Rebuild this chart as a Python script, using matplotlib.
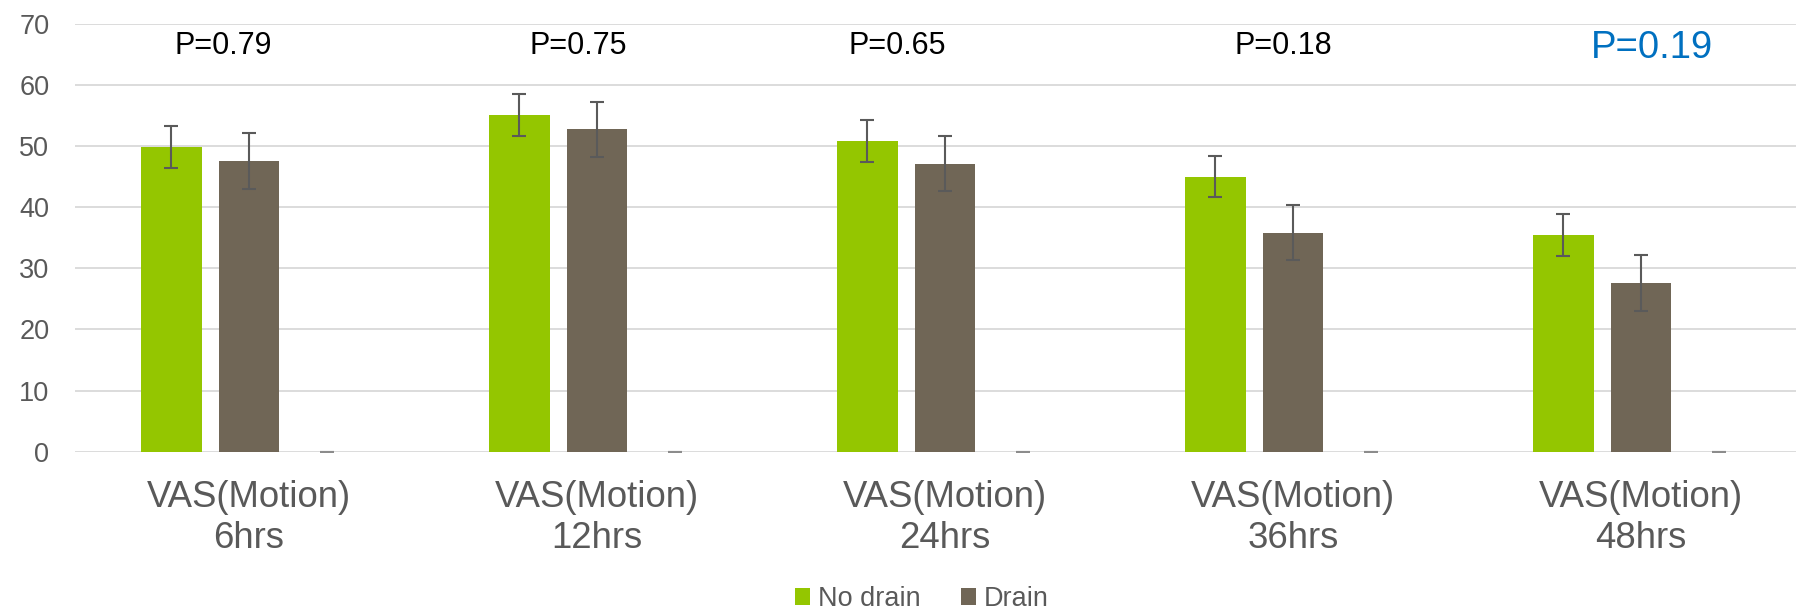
import matplotlib
matplotlib.use("Agg")
import matplotlib.pyplot as plt
import numpy as np

plt.rcParams['font.family'] = ['Liberation Sans', 'DejaVu Sans']

categories = ["VAS(Motion)\n6hrs", "VAS(Motion)\n12hrs", "VAS(Motion)\n24hrs",
              "VAS(Motion)\n36hrs", "VAS(Motion)\n48hrs"]
no_drain = [49.8, 55.1, 50.8, 45.0, 35.4]
no_drain_err = [3.4, 3.4, 3.4, 3.4, 3.4]
drain = [47.6, 52.7, 47.1, 35.8, 27.6]
drain_err = [4.6, 4.5, 4.5, 4.5, 4.55]
third = [0, 0, 0, 0, 0]
third_err = [0, 0, 0, 0, 0]
p_labels = ["P=0.79", "P=0.75", "P=0.65", "P=0.18", "P=0.19"]
p_x = [-0.073, 0.945, 1.862, 2.971, 4.031]
p_y = [66.4, 66.4, 66.4, 66.4, 66.0]
p_colors = ["black", "black", "black", "black", "#0070C0"]
p_sizes = [22, 22, 22, 22, 27.5]

fig = plt.figure(figsize=(17.96, 6.15), dpi=100)
ax = fig.add_axes([75/1796, 163.3/615, 1740/1796, (451.7-23.7)/615])

x = np.arange(len(categories))
w = 0.175
off = 0.223
ecol = "#5A5A5A"
ekw = dict(elinewidth=1.5, capthick=1.5, ecolor=ecol)
ax.bar(x - off, no_drain, w, color="#94C600", label="No drain", zorder=3,
       yerr=no_drain_err, capsize=4.7, error_kw=ekw)
ax.bar(x, drain, w, color="#706656", label="Drain", zorder=3,
       yerr=drain_err, capsize=4.7, error_kw=ekw)
ax.bar(x + off, third, w, color="#A5A5A5", label="_nolegend_", zorder=3,
       yerr=third_err, capsize=4.7, error_kw=dict(elinewidth=1.5, capthick=1.5, ecolor="#8C8C8C"))

ax.set_xlim(-0.5, 4.5)
ax.set_ylim(0, 70)
ax.set_yticks(range(0, 71, 10))
ax.yaxis.grid(True, color="#D9D9D9", linewidth=1.3, zorder=0)
ax.set_axisbelow(True)
for s in ax.spines.values():
    s.set_visible(False)
ax.tick_params(axis='both', length=0)
ax.tick_params(axis='y', labelsize=19.5, labelcolor="#595959", pad=18.5)
ax.set_xticks(x)
ax.set_xticklabels(categories, fontsize=26.3, color="#595959", linespacing=1.22)
ax.tick_params(axis='x', pad=20.5)

for px, py, t, c, s in zip(p_x, p_y, p_labels, p_colors, p_sizes):
    ax.text(px, py, t, ha="center", va="center", fontsize=s, color=c)

fig.legend(loc="center", bbox_to_anchor=(922/1796, 1 - 599/615), ncol=2,
           frameon=False, fontsize=19.5, labelcolor="#595959",
           handlelength=0.55, handleheight=0.55, handletextpad=0.3, columnspacing=1.5)

fig.savefig("out.png", dpi=100, facecolor="white")
